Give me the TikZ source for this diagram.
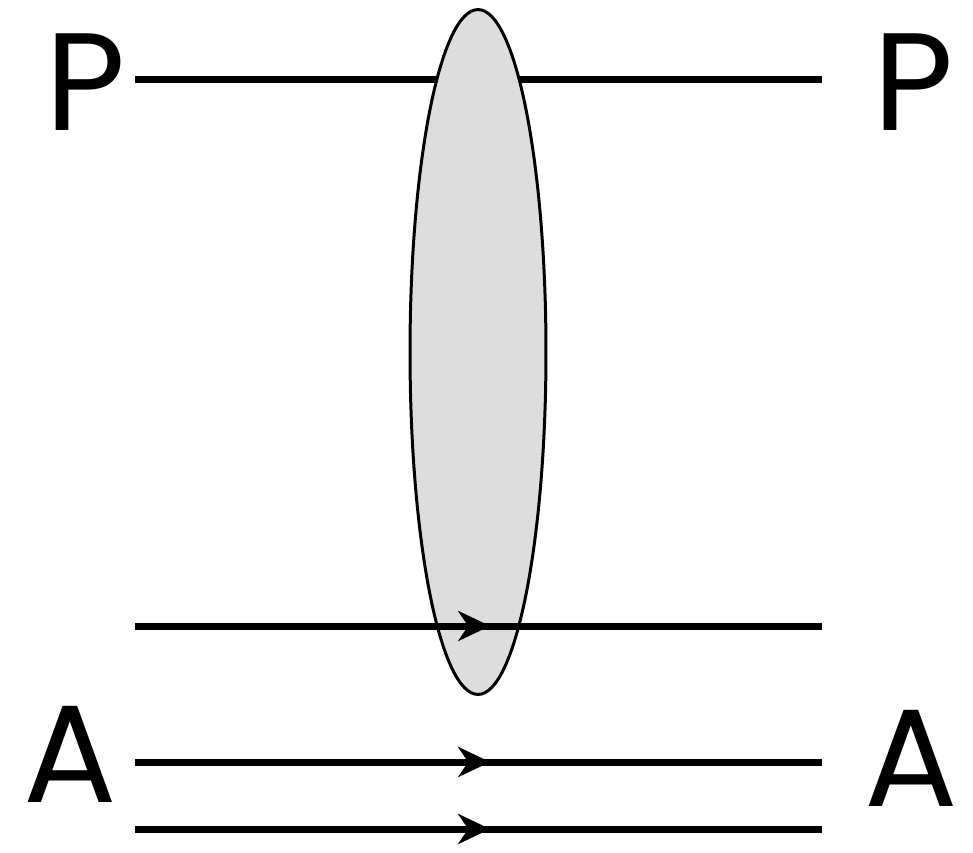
\documentclass[tikz,border=0pt]{standalone}
\usepackage{fontspec}
\setmainfont{Poppins}
\usetikzlibrary{arrows.meta,decorations.markings,shapes.geometric,positioning}
\definecolor{gDark}{HTML}{000000}
\definecolor{gPale}{HTML}{DDDDDD}
\tikzset{
  setA/.style={
    every node/.style={inner sep=0pt, outer sep=0pt},
    line cap=butt, line join=round,
  },
  wire/.style={gDark, line width=0.14cm},
  wireFlow/.style={wire, postaction={decorate}, decoration={markings,
    mark=at position 0.517 with {\arrow{Stealth[length=0.64cm, width=0.6cm, inset=0.2cm]}}}},
  lens/.style={ellipse, draw=gDark, fill=gPale, line width=0.06cm,
    minimum width=2.72cm, minimum height=13.7cm},
  bigLabel/.style={font=\fontsize{79}{79}\selectfont, anchor=base},
}

\begin{document}
\begin{tikzpicture}[setA, x=0.02cm, y=-0.02cm]

\useasboundingbox (0,0) rectangle (973,852);

% ============================================================
% Labels on both sides
% ============================================================
\node[bigLabel] (pL) at (86, 130) {P};
\node[bigLabel] (pR) at (914, 130) {P};
\node[bigLabel] (aL) at (70, 802) {A};
\node[bigLabel] (aR) at (911, 806) {A};

% Line ends
\coordinate (tl) at (135, 79);   \coordinate (tr) at (822, 79);
\coordinate (ml) at (135, 626);  \coordinate (mr) at (822, 626);
\coordinate (bl) at (135, 762);  \coordinate (br) at (822, 762);
\coordinate (cl) at (135, 829);  \coordinate (cr) at (822, 829);

% Top line runs behind the ellipse
\draw[wire] (tl) -- (tr);

% ============================================================
% Ellipse
% ============================================================
\node[lens] (blob) at (478, 352) {};

% Lower lines with arrows, in front of the ellipse
\draw[wireFlow] (ml) -- (mr);
\draw[wireFlow] (bl) -- (br);
\draw[wireFlow] (cl) -- (cr);

\end{tikzpicture}
\end{document}
